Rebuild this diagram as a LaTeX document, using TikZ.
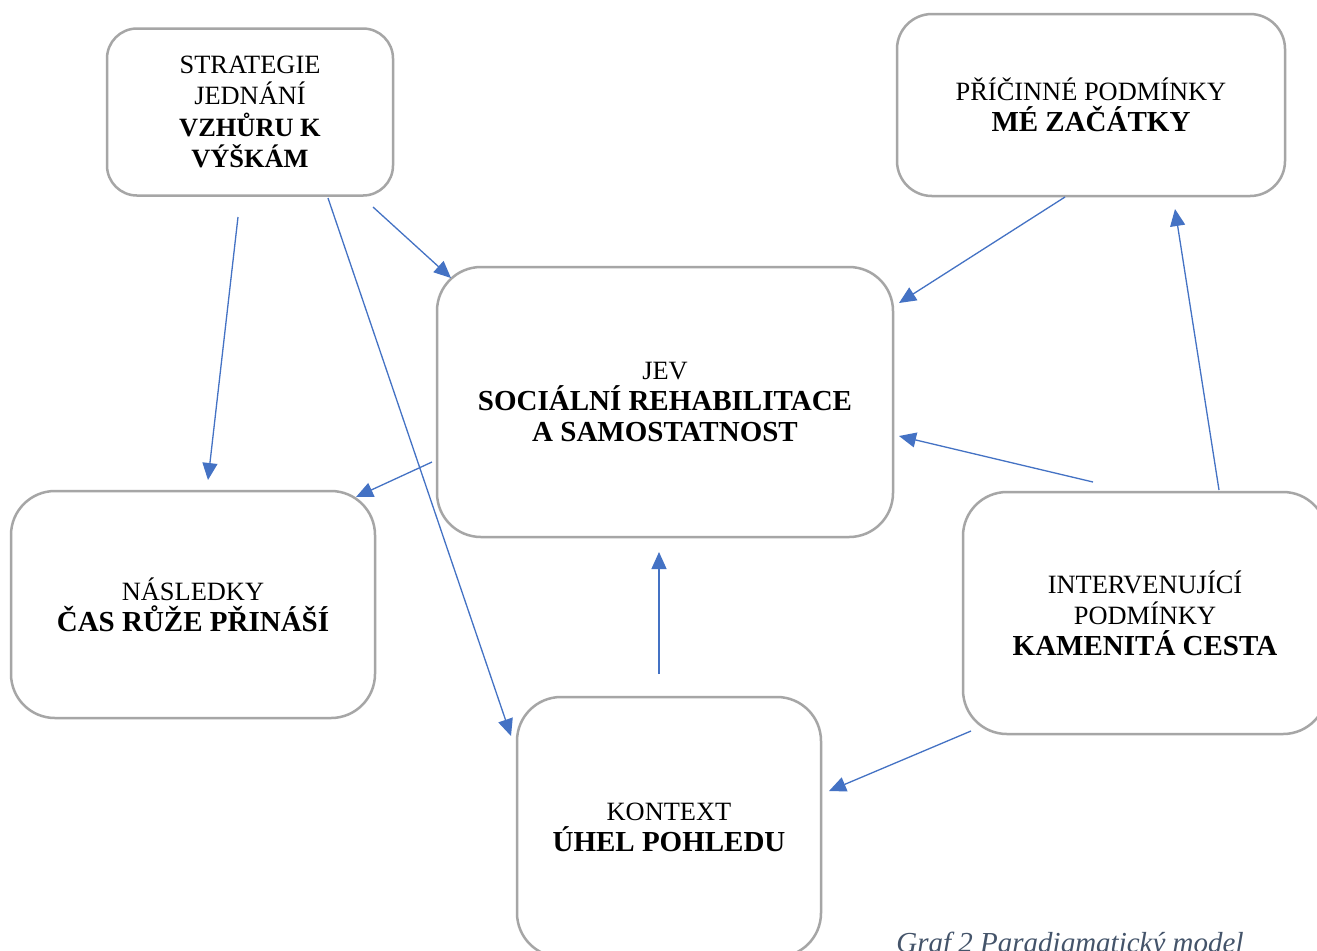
\documentclass[tikz,border=0pt]{standalone}
\usepackage{fontspec}
\setmainfont{Liberation Serif}
\usetikzlibrary{arrows.meta}
\definecolor{boxgray}{HTML}{A6A6A6}
\definecolor{arrblue}{HTML}{4472C4}
\definecolor{capcol}{HTML}{44546A}
\newcommand\bigb[1]{{\fontsize{14.5}{16.2}\selectfont\bfseries #1}}
\begin{document}
\begin{tikzpicture}[x=0.5pt,y=-0.5pt,
  box/.style={draw=boxgray,line width=1.25pt,align=center,inner sep=0pt,
    font=\fontsize{13.2}{15.6}\selectfont},
  conn/.style={draw=arrblue,line width=0.65pt,-{Triangle[length=8.5pt,width=7.5pt]}}]
\useasboundingbox (0,0) rectangle (1317,950);
\clip (0,0) rectangle (1317,950);
\fill[white] (0,0) rectangle (1317,950);
% boxes
\node[box,rounded corners=15pt,minimum width=143pt,minimum height=83.5pt] (strat) at (250,112)
  {STRATEGIE\\JEDNÁNÍ\\\textbf{VZHŮRU K}\\\textbf{VÝŠKÁM}};
\node[box,rounded corners=17.5pt,minimum width=194pt,minimum height=91pt] (cause) at (1091,105)
  {PŘÍČINNÉ PODMÍNKY\\\bigb{MÉ ZAČÁTKY}};
\node[box,rounded corners=22pt,minimum width=228pt,minimum height=135pt] (jev) at (665,402)
  {JEV\\\bigb{SOCIÁLNÍ REHABILITACE}\\\bigb{A SAMOSTATNOST}};
\node[box,rounded corners=22pt,minimum width=182pt,minimum height=113.5pt] (cons) at (193,604.5)
  {NÁSLEDKY\\\bigb{ČAS RŮŽE PŘINÁŠÍ}};
\node[box,rounded corners=22pt,minimum width=182pt,minimum height=121pt] (interv) at (1145,613)
  {INTERVENUJÍCÍ\\PODMÍNKY\\\bigb{KAMENITÁ CESTA}};
\node[box,rounded corners=22pt,minimum width=152pt,minimum height=130pt] (ctx) at (669,827)
  {KONTEXT\\\bigb{ÚHEL POHLEDU}};
% connector end points
\coordinate (a1) at (238,217); \coordinate (a2) at (208,480);
\coordinate (b1) at (373,207); \coordinate (b2) at (451,278);
\coordinate (c1) at (328,198); \coordinate (c2) at (511,736);
\coordinate (d1) at (1065,197); \coordinate (d2) at (899,303);
\coordinate (e1) at (1093,482); \coordinate (e2) at (899,436);
\coordinate (f1) at (1219,490); \coordinate (f2) at (1175,209);
\coordinate (g1) at (432,462); \coordinate (g2) at (356,497);
\coordinate (h1) at (659,674); \coordinate (h2) at (659,552);
\coordinate (i1) at (971,731); \coordinate (i2) at (829,791);
\draw[conn] (a1) -- (a2);
\draw[conn] (b1) -- (b2);
\draw[conn] (c1) -- (c2);
\draw[conn] (d1) -- (d2);
\draw[conn] (e1) -- (e2);
\draw[conn] (f1) -- (f2);
\draw[conn] (g1) -- (g2);
\draw[conn] (h1) -- (h2);
\draw[conn] (i1) -- (i2);
% caption
\node[anchor=base west,inner sep=0pt,text=capcol,font=\fontsize{14.5}{16}\selectfont\itshape] (cap) at (896,952)
  {Graf 2 Paradigmatický model};
\end{tikzpicture}
\end{document}
